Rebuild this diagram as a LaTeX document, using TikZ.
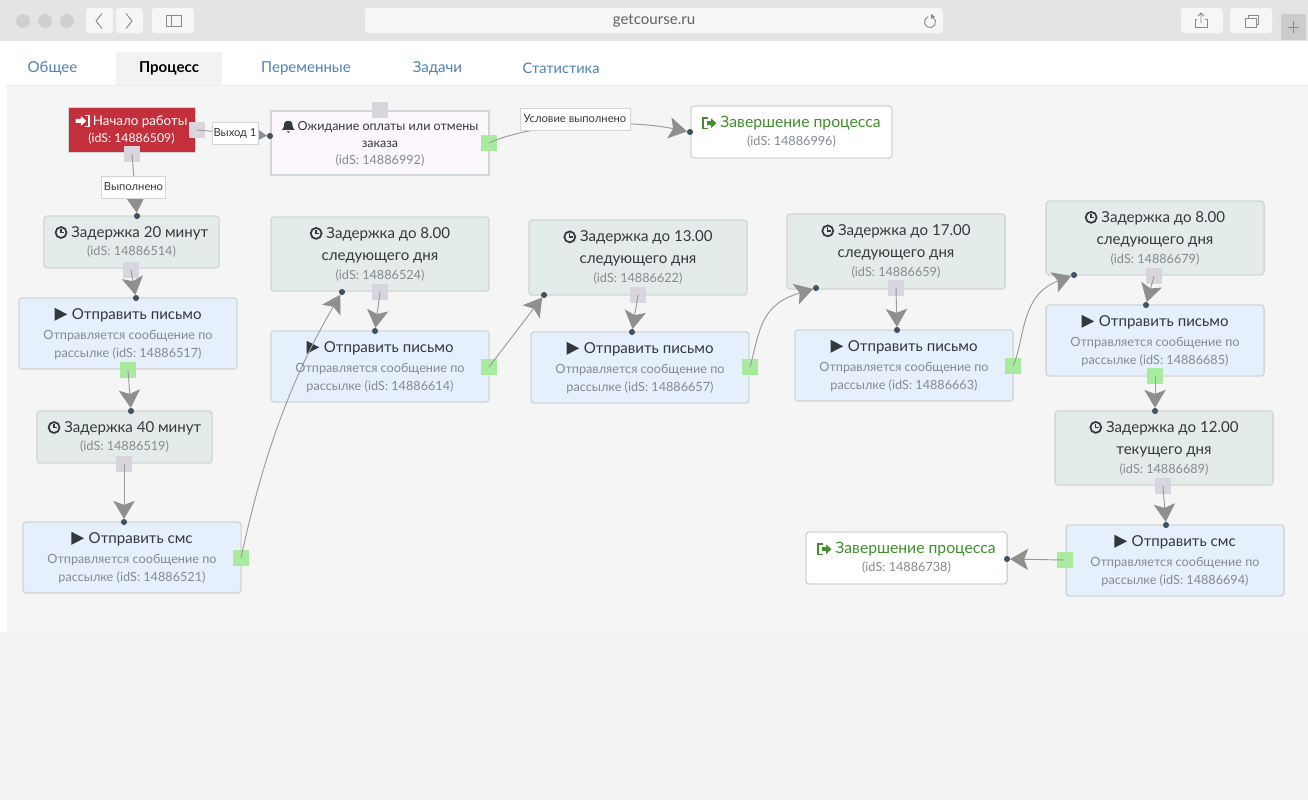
\documentclass[tikz,border=0pt]{standalone}
\usepackage{fontspec}
\setmainfont{Lato}
\usetikzlibrary{arrows.meta,positioning}
\definecolor{chrome}{HTML}{E4E4E4}
\definecolor{chromebtn}{HTML}{F6F6F6}
\definecolor{chromeicon}{HTML}{8A8A8A}
\definecolor{dotgrey}{HTML}{CFCFCF}
\definecolor{canvasbg}{HTML}{F5F5F5}
\definecolor{lowerbg}{HTML}{F3F3F3}
\definecolor{tabblue}{HTML}{4F81B8}
\definecolor{delayfill}{HTML}{E3ECEA}
\definecolor{sendfill}{HTML}{E6F0FC}
\definecolor{waitfill}{HTML}{FCF6FD}
\definecolor{redfill}{HTML}{C42F3C}
\definecolor{boxline}{HTML}{D3D6D6}
\definecolor{greyhandle}{HTML}{D9D5DF}
\definecolor{greenhandle}{HTML}{A9EB9E}
\definecolor{linkgrey}{HTML}{9A9A9A}
\definecolor{tipgrey}{HTML}{8F8F8F}
\definecolor{dotblue}{HTML}{3F5266}
\definecolor{titletext}{HTML}{33383C}
\definecolor{idtext}{HTML}{858A8E}
\definecolor{endgreen}{HTML}{3F8F2C}
\newcommand{\ftitle}{\fontsize{11.3}{16.5}\selectfont\color{titletext}}
\newcommand{\fend}{\fontsize{11.8}{16.5}\selectfont\color{endgreen}}
\newcommand{\fid}{\fontsize{9.5}{13.5}\selectfont\color{idtext}}
\newcommand{\icoclock}{\tikz[baseline=-3.6pt,x=1pt,y=1pt,sharp corners]{\draw[line width=1.3pt,titletext](0,0)circle(4.1pt);\draw[line width=1pt,titletext](0,2.6)--(0,0)--(2.2,0);}\hspace{3pt}}
\newcommand{\icoplay}{\tikz[baseline=-3.6pt,x=1pt,y=1pt,sharp corners]{\fill[titletext](0,-4.9)--(9.5,0)--(0,4.9)--cycle;}\hspace{3.5pt}}
\newcommand{\icobell}{\tikz[baseline=-3.6pt,x=1pt,y=1pt,sharp corners]{\fill[titletext](-5,-3)..controls(-3,-2)and(-3.2,1)..(-3,2)..controls(-2.6,4.5)and(2.6,4.5)..(3,2)..controls(3.2,1)and(3,-2)..(5,-3)--cycle;\fill[titletext](-1.3,-4)arc[start angle=180,end angle=360,radius=1.3pt]--cycle;}\hspace{2pt}}
\newcommand{\icoenter}[1]{\tikz[baseline=-3.4pt,x=1pt,y=1pt,sharp corners]{\fill[#1](-5,-1.5)--(-1,-1.5)--(-1,-3.6)--(3,0)--(-1,3.6)--(-1,1.5)--(-5,1.5)--cycle;\draw[#1,line width=1pt](2.4,4)--(5,4)--(5,-4)--(2.4,-4);}\hspace{2.5pt}}
\newcommand{\icoexit}[1]{\tikz[baseline=-3.4pt,x=1pt,y=1pt,sharp corners]{\fill[#1](-1.5,-1.5)--(1.5,-1.5)--(1.5,-3.6)--(5.5,0)--(1.5,3.6)--(1.5,1.5)--(-1.5,1.5)--cycle;\draw[#1,line width=1pt](-1,4)--(-4.5,4)--(-4.5,-4)--(-1,-4);}\hspace{3pt}}
\newcommand{\boxnode}[7]{%
  \pgfmathsetmacro{\bw}{(#4-#2)*0.75}\pgfmathsetmacro{\bh}{(#5-#3)*0.75}%
  \pgfmathsetmacro{\bx}{(#2+#4)/2}\pgfmathsetmacro{\by}{(#3+#5)/2}%
  \node[#6,minimum width=\bw pt,minimum height=\bh pt] (#1) at (\bx,\by) {#7};}
\tikzset{
  x=0.75pt,y=-0.75pt,
  flowbox/.style={draw=boxline,line width=1.1pt,rounded corners=2.4pt,inner sep=0pt,outer sep=0pt,align=center},
  delaybox/.style={flowbox,fill=delayfill},
  sendbox/.style={flowbox,fill=sendfill},
  endbox/.style={flowbox,fill=white},
  waitbox/.style={flowbox,fill=waitfill,rounded corners=0pt},
  startbox/.style={flowbox,fill=redfill,rounded corners=0pt,text=white,line width=0.7pt},
  greyport/.style={fill=greyhandle,minimum size=12.6pt,inner sep=0pt,outer sep=0pt},
  greenport/.style={fill=greenhandle,minimum size=12.6pt,inner sep=0pt,outer sep=0pt},
  inport/.style={circle,fill=dotblue,minimum size=4.6pt,inner sep=0pt,outer sep=0pt},
  link/.style={draw=linkgrey,line width=0.7pt,shorten >=0pt,-{Stealth[length=13.5pt,width=16pt,inset'=0pt 0.22,color=tipgrey,fill=tipgrey]}},
  linktag/.style={draw=boxline,fill=white,line width=0.7pt,inner sep=0pt,outer sep=0pt,font=\fontsize{8.4}{10}\selectfont,text=titletext,minimum height=16.5pt},
  tabitem/.style={font=\fontsize{11.3}{14}\selectfont,text=tabblue,inner sep=0pt},
  btn/.style={fill=chromebtn,rounded corners=2.2pt},
  glyph/.style={draw=chromeicon,line width=0.7pt},
}
\begin{document}
\begin{tikzpicture}
\useasboundingbox (0,0) rectangle (1308,800);
% page and browser frame
\fill[canvasbg] (0,0) rectangle (1308,800);
\fill[lowerbg] (0,632) rectangle (1308,800);
\fill[white] (0,41) rectangle (1308,85);
\fill[white] (0,85) rectangle (6.5,632);
\draw[color=black!7,line width=0.7pt] (6,85)--(1308,85);
\fill[chrome] (0,0) rectangle (1308,41);
\foreach \cx in {23,45,67} \fill[dotgrey] (\cx,21) circle[radius=5.2pt];
\fill[btn] (86,8) rectangle (113,33);
\fill[btn] (116,8) rectangle (143,33);
\fill[btn] (152,8) rectangle (194,33);
\fill[btn] (365,8) rectangle (943,33);
\fill[btn] (1181,8) rectangle (1223,33);
\fill[btn] (1230,8) rectangle (1272,33);
\fill[black!20] (1281,14) rectangle (1306,40);
\draw[glyph] (102,13.5)--(96,21)--(102,28.5);
\draw[glyph] (126,13.5)--(132,21)--(126,28.5);
\draw[glyph] (166,15) rectangle (181,26.5);
\draw[glyph] (171,15)--(171,26.5);
\draw[glyph] (1293.5,21)--(1293.5,33) (1288,27)--(1299,27);
\draw[glyph] (1197,19)--(1195,19)--(1195,27.5)--(1207,27.5)--(1207,19)--(1205,19);
\draw[glyph] (1201,23)--(1201,13) (1198,16)--(1201,13)--(1204,16);
\draw[glyph] (1245.5,18.5) rectangle (1256,27);
\draw[glyph] (1248.5,18)--(1248.5,15)--(1258.5,15)--(1258.5,24)--(1256.5,24);
\draw[glyph] (932.8,17.2) arc[start angle=60,end angle=-250,radius=4.2pt];
\fill[chromeicon] (931,14)--(935,16.5)--(931,19)--cycle;
\node[inner sep=0pt,font=\fontsize{11.3}{14}\selectfont,text=black!62] (url) at (654,21) {getcourse.ru};
% tabs
\fill[black!5] (116,52) rectangle (222,85);
\node[tabitem] (tab1) at (52.5,68.5) {Общее};
\node[tabitem,text=black,font=\fontsize{11.3}{14}\selectfont\bfseries] (tab2) at (169,68.5) {Процесс};
\node[tabitem] (tab3) at (306,68.5) {Переменные};
\node[tabitem] (tab4) at (437.5,68.5) {Задачи};
\node[tabitem,font=\fontsize{10.9}{14}\selectfont] (tab5) at (561,68.5) {Статистика};
% flow boxes
\boxnode{start}{68}{107}{195}{152}{startbox}{{\fontsize{10}{13}\selectfont\color{white}\icoenter{white}Начало работы}\\[0.6pt]{\fontsize{9.2}{13}\selectfont\color{white}(idS: 14886509)}}
\boxnode{wait}{271}{111}{489}{175}{waitbox}{{\fontsize{9.4}{13}\selectfont\color{titletext}\icobell Ожидание оплаты или отмены}\\[0.8pt]{\fontsize{9.4}{13}\selectfont\color{titletext}заказа}\\[0.3pt]{\fid(idS: 14886992)}}
\boxnode{endA}{691}{106}{892}{158}{endbox}{{\fend\icoexit{endgreen}Завершение процесса}\\[1.5pt]{\fid(idS: 14886996)}}
\boxnode{d20}{44}{216}{219}{268}{delaybox}{{\ftitle\icoclock Задержка 20 минут}\\[2pt]{\fid(idS: 14886514)}}
\boxnode{s1}{19}{298}{237}{369}{sendbox}{{\ftitle\icoplay Отправить письмо}\\[3pt]{\fid Отправляется сообщение по}\\[1.5pt]{\fid рассылке (idS: 14886517)}}
\boxnode{d40}{37}{411}{212}{463}{delaybox}{{\ftitle\icoclock Задержка 40 минут}\\[2pt]{\fid(idS: 14886519)}}
\boxnode{sms1}{23}{522}{241}{593}{sendbox}{{\ftitle\icoplay Отправить смс}\\[3pt]{\fid Отправляется сообщение по}\\[1.5pt]{\fid рассылке (idS: 14886521)}}
\boxnode{d8}{271}{217}{489}{291}{delaybox}{{\ftitle\icoclock Задержка до 8.00}\\[4.5pt]{\ftitle следующего дня}\\[2.2pt]{\fid(idS: 14886524)}}
\boxnode{s2}{271}{331}{489}{402}{sendbox}{{\ftitle\icoplay Отправить письмо}\\[3pt]{\fid Отправляется сообщение по}\\[1.5pt]{\fid рассылке (idS: 14886614)}}
\boxnode{d13}{529}{220}{747}{295}{delaybox}{{\ftitle\icoclock Задержка до 13.00}\\[4.5pt]{\ftitle следующего дня}\\[2.2pt]{\fid(idS: 14886622)}}
\boxnode{s3}{531}{332}{749}{403}{sendbox}{{\ftitle\icoplay Отправить письмо}\\[3pt]{\fid Отправляется сообщение по}\\[1.5pt]{\fid рассылке (idS: 14886657)}}
\boxnode{d17}{787}{214}{1005}{289}{delaybox}{{\ftitle\icoclock Задержка до 17.00}\\[4.5pt]{\ftitle следующего дня}\\[2.2pt]{\fid(idS: 14886659)}}
\boxnode{s4}{795}{330}{1013}{401}{sendbox}{{\ftitle\icoplay Отправить письмо}\\[3pt]{\fid Отправляется сообщение по}\\[1.5pt]{\fid рассылке (idS: 14886663)}}
\boxnode{d8b}{1046}{201}{1264}{275}{delaybox}{{\ftitle\icoclock Задержка до 8.00}\\[4.5pt]{\ftitle следующего дня}\\[2.2pt]{\fid(idS: 14886679)}}
\boxnode{s5}{1046}{305}{1264}{376}{sendbox}{{\ftitle\icoplay Отправить письмо}\\[3pt]{\fid Отправляется сообщение по}\\[1.5pt]{\fid рассылке (idS: 14886685)}}
\boxnode{d12}{1055}{411}{1273}{485}{delaybox}{{\ftitle\icoclock Задержка до 12.00}\\[4.5pt]{\ftitle текущего дня}\\[2.2pt]{\fid(idS: 14886689)}}
\boxnode{sms2}{1066}{525}{1284}{596}{sendbox}{{\ftitle\icoplay Отправить смс}\\[3pt]{\fid Отправляется сообщение по}\\[1.5pt]{\fid рассылке (idS: 14886694)}}
\boxnode{endB}{806}{532}{1007}{584}{endbox}{{\fend\icoexit{endgreen}Завершение процесса}\\[1.5pt]{\fid(idS: 14886738)}}
% output ports
\node[greyport] (pStartR) at (197,130) {};
\node[greyport] (pStartB) at (132,154) {};
\node[greyport] (pWaitT) at (380,110) {};
\node[greenport] (pWaitR) at (489,143) {};
\node[greyport] (pD20) at (131,270) {};
\node[greenport] (pS1) at (128,370) {};
\node[greyport] (pD40) at (124,464) {};
\node[greenport] (pSms1) at (241,558) {};
\node[greyport] (pD8) at (380,292) {};
\node[greenport] (pS2) at (489,367) {};
\node[greyport] (pD13) at (638,295) {};
\node[greenport] (pS3) at (750,367) {};
\node[greyport] (pD17) at (896,288) {};
\node[greenport] (pS4) at (1013,366) {};
\node[greyport] (pD8b) at (1154,276) {};
\node[greenport] (pS5) at (1155,376) {};
\node[greyport] (pD12) at (1163,486) {};
\node[greenport] (pSms2) at (1065,560) {};
% input dots
\node[inport] (iWait) at (270,136) {};
\node[inport] (iD20) at (137,216) {};
\node[inport] (iEndA) at (690,132) {};
\node[inport] (iS1) at (136,298) {};
\node[inport] (iD40) at (131,411) {};
\node[inport] (iSms1) at (124,522) {};
\node[inport] (iD8) at (342,292) {};
\node[inport] (iS2) at (375,331) {};
\node[inport] (iD13) at (544,295) {};
\node[inport] (iS3) at (632,332) {};
\node[inport] (iD17) at (816,288) {};
\node[inport] (iS4) at (897,330) {};
\node[inport] (iD8b) at (1074,275) {};
\node[inport] (iS5) at (1146,305) {};
\node[inport] (iD12) at (1155,411) {};
\node[inport] (iSms2) at (1166,525) {};
\node[inport] (iEndB) at (1007,559) {};
% connectors
\draw[link] (pStartR.center)--(iWait);
\draw[link] (pStartB.center)--(iD20);
\draw[link] (pWaitR.center) .. controls (530,124) and (620,118) .. (iEndA);
\draw[link] (pD20.center)--(iS1);
\draw[link] (pS1.center)--(iD40);
\draw[link] (pD40.center)--(iSms1);
\draw[link] (pSms1.center) .. controls (262,460) and (290,380) .. (iD8);
\draw[link] (pD8.center)--(iS2);
\draw[link] (pS2.center)--(iD13);
\draw[link] (pD13.center)--(iS3);
\draw[link] (pS3.center) .. controls (760,330) and (760,305) .. (iD17);
\draw[link] (pD17.center)--(iS4);
\draw[link] (pS4.center) .. controls (1025,340) and (1020,295) .. (iD8b);
\draw[link] (pD8b.center)--(iS5);
\draw[link] (pS5.center)--(iD12);
\draw[link] (pD12.center)--(iSms2);
\draw[link] (pSms2.center)--(iEndB);
% connector labels
\node[linktag,minimum width=34.5pt] (tagA) at (235,133) {Выход 1};
\node[linktag,minimum width=48.5pt] (tagB) at (133.5,187) {Выполнено};
\node[linktag,minimum width=82.5pt] (tagC) at (575,119) {Условие выполнено};
\end{tikzpicture}
\end{document}
